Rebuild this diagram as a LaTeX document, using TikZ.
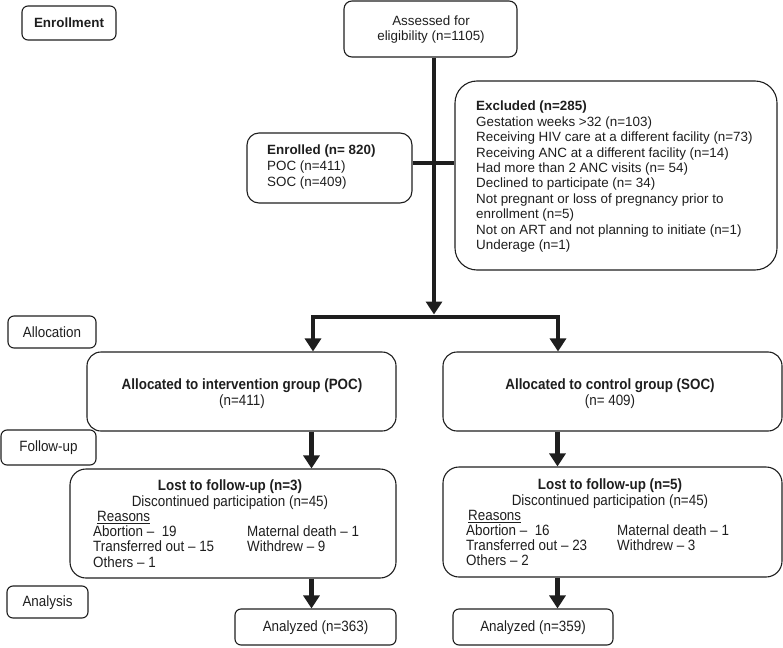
\documentclass[tikz,border=0pt]{standalone}
\usepackage{fontspec}
\setmainfont{Liberation Sans}
\newfontfamily\nf[FakeStretch=0.9]{Liberation Sans}
\usetikzlibrary{arrows.meta}
\definecolor{ink}{HTML}{1E1E1E}
\newcommand\lstack[2]{\vtop{\baselineskip=#1\relax\lineskiplimit=-50pt\relax\halign{##\hfil\cr#2\crcr}}}
\newcommand\cstack[2]{\vtop{\baselineskip=#1\relax\lineskiplimit=-50pt\relax\halign{\hfil##\hfil\cr#2\crcr}}}
\begin{document}
\begin{tikzpicture}[x=1pt,y=-1pt,
  box/.style={draw=ink, line width=1.1pt, inner sep=0pt},
  txt/.style={inner sep=0pt, text=ink, font=\fontsize{13.4}{15}\selectfont},
  ntxt/.style={inner sep=0pt, text=ink, font=\nf\fontsize{14.9}{15}\selectfont},
  flow/.style={draw=ink, line width=4.5pt, -{Triangle[length=13pt,width=16pt]}},
  thickline/.style={draw=ink, line width=4.5pt}]
\useasboundingbox (0,0) rectangle (783,647);
% boxes
\node[box, rounded corners=6pt, minimum width=94pt, minimum height=34pt] (enroll) at (69,23) {};
\node[box, rounded corners=8pt, minimum width=173pt, minimum height=56pt] (assess) at (430.5,29) {};
\node[box, rounded corners=12pt, minimum width=165pt, minimum height=70pt] (enrolled) at (329.5,168) {};
\node[box, rounded corners=22pt, minimum width=322pt, minimum height=189pt] (excluded) at (616,175.5) {};
\node[box, rounded corners=6pt, minimum width=88pt, minimum height=32pt] (allocation) at (52,332) {};
\node[box, rounded corners=14pt, minimum width=309pt, minimum height=79pt] (allocL) at (241.5,391.5) {};
\node[box, rounded corners=14pt, minimum width=339pt, minimum height=79pt] (allocR) at (612.5,391.5) {};
\node[box, rounded corners=6pt, minimum width=95pt, minimum height=35pt] (followup) at (48.5,447.5) {};
\node[box, rounded corners=16pt, minimum width=326pt, minimum height=109pt] (lostL) at (233,523.5) {};
\node[box, rounded corners=16pt, minimum width=339pt, minimum height=110pt] (lostR) at (612.5,522) {};
\node[box, rounded corners=6pt, minimum width=81pt, minimum height=32pt] (analysis) at (47.5,602) {};
\node[box, rounded corners=6pt, minimum width=161pt, minimum height=36pt] (anaL) at (315.5,627) {};
\node[box, rounded corners=6pt, minimum width=160pt, minimum height=36pt] (anaR) at (533,627) {};
% texts
\node[txt, anchor=base] (enrollT) at (69,27.3) {\bfseries Enrollment};
\node[txt, anchor=base] (assessT) at (431,26) {\cstack{14.5pt}{Assessed for\cr eligibility (n=1105)}};
\node[txt, anchor=base west] (enrolledT) at (267,154.5) {\lstack{16pt}{\bfseries Enrolled (n= 820)\cr POC (n=411)\cr SOC (n=409)}};
\node[txt, anchor=base west] (excludedT) at (476,111) {\lstack{15.4pt}{\bfseries Excluded (n=285)\cr
Gestation weeks >32 (n=103)\cr
Receiving HIV care at a different facility (n=73)\cr
Receiving ANC at a different facility (n=14)\cr
Had more than 2 ANC visits (n= 54)\cr
Declined to participate (n= 34)\cr
Not pregnant or loss of pregnancy prior to\cr
enrollment (n=5)\cr
Not on ART and not planning to initiate (n=1)\cr
Underage (n=1)}};
\node[ntxt, anchor=base] (allocationT) at (52,337) {Allocation};
\node[ntxt, anchor=base] (allocLT) at (242,389.5) {\cstack{15.5pt}{\bfseries Allocated to intervention group (POC)\cr (n=411)}};
\node[ntxt, anchor=base] (allocRT) at (610,389.5) {\cstack{15.5pt}{\bfseries Allocated to control group (SOC)\cr (n= 409)}};
\node[ntxt, anchor=base] (followupT) at (48.5,451.5) {Follow-up};
\node[ntxt, anchor=base] (lostLT) at (230,490.5) {\cstack{15.5pt}{\bfseries Lost to follow-up (n=3)\cr Discontinued participation (n=45)}};
\node[ntxt, anchor=base west] (reasL) at (97,521.5) {\underline{Reasons}};
\node[ntxt, anchor=base west] (colL1) at (93,536.7) {\lstack{15.2pt}{Abortion –\ \ 19\cr Transferred out – 15\cr Others – 1}};
\node[ntxt, anchor=base west] (colL2) at (247,536.7) {\lstack{15.2pt}{Maternal death – 1\cr Withdrew – 9}};
\node[ntxt, anchor=base] (lostRT) at (610,489.5) {\cstack{15.5pt}{\bfseries Lost to follow-up (n=5)\cr Discontinued participation (n=45)}};
\node[ntxt, anchor=base west] (reasR) at (468,520.5) {\underline{Reasons}};
\node[ntxt, anchor=base west] (colR1) at (466,535.5) {\lstack{15.2pt}{Abortion –\ \ 16\cr Transferred out – 23\cr Others – 2}};
\node[ntxt, anchor=base west] (colR2) at (617,535.5) {\lstack{15.2pt}{Maternal death – 1\cr Withdrew – 3}};
\node[ntxt, anchor=base] (analysisT) at (47.5,606.5) {Analysis};
\node[ntxt, anchor=base] (anaLT) at (315.5,631) {Analyzed (n=363)};
\node[ntxt, anchor=base] (anaRT) at (533,631) {Analyzed (n=359)};
% connectors
\coordinate (split) at (434,317);
\coordinate (splitTop) at (434,314.5);
\coordinate (barL) at (313,317);
\coordinate (barR) at (558,317);
\coordinate (xline) at (434,163);
\coordinate (colL) at (311.5,0);
\coordinate (colR) at (557.5,0);
\draw[thickline] (enrolled.east |- xline) -- (excluded.west |- xline);
\draw[flow] (assess.south -| split) -- (splitTop);
\draw[flow] (split) -| (allocL.north -| barL);
\draw[flow] (split) -| (allocR.north -| barR);
\draw[flow] (allocL.south -| colL) -- (lostL.north -| colL);
\draw[flow] (allocR.south -| colR) -- (lostR.north -| colR);
\draw[flow] (lostL.south -| colL) -- (anaL.north -| colL);
\draw[flow] (lostR.south -| colR) -- (anaR.north -| colR);
\end{tikzpicture}
\end{document}
